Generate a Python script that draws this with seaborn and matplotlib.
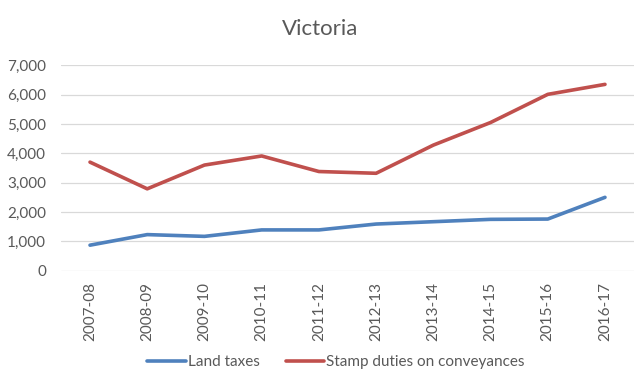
import pandas as pd
import matplotlib.pyplot as plt
import seaborn as sns

years = ['2007-08', '2008-09', '2009-10', '2010-11', '2011-12',
         '2012-13', '2013-14', '2014-15', '2015-16', '2016-17']
land_taxes = [870, 1230, 1170, 1390, 1390, 1590, 1670, 1750, 1760, 2500]
stamp_duties = [3700, 2790, 3600, 3910, 3380, 3320, 4280, 5050, 6010, 6350]
series_names = ['Land taxes', 'Stamp duties on conveyances']

df = pd.DataFrame({'Year': years * 2,
                   'Value': land_taxes + stamp_duties,
                   'Series': [series_names[0]] * len(years) + [series_names[1]] * len(years)})

sns.set_style('white')
plt.rcParams['font.family'] = ['Lato', 'DejaVu Sans']

fig = plt.figure(figsize=(6.4, 3.83), dpi=100)
ax = fig.add_axes([61.4 / 640, 1 - 270.7 / 383, (633.6 - 61.4) / 640, (270.7 - 65.3) / 383])

sns.lineplot(data=df, x='Year', y='Value', hue='Series', sort=False,
             palette=['#4F81BD', '#C0504D'], linewidth=2.6, ax=ax, legend=True)

ax.set_xlim(-0.5, len(years) - 0.5)
ax.set_ylim(0, 7000)
ax.set_yticks(range(0, 7001, 1000))
ax.set_yticklabels([f'{v:,}' for v in range(0, 7001, 1000)])
ax.grid(axis='y', color='#D9D9D9', linewidth=0.9)
ax.set_axisbelow(True)
for s in ax.spines.values():
    s.set_visible(False)
ax.tick_params(axis='both', length=0, labelsize=11, labelcolor='#595959')
ax.tick_params(axis='y', pad=11)
ax.tick_params(axis='x', pad=8)
plt.setp(ax.get_xticklabels(), rotation=90)
ax.set_xlabel('')
ax.set_ylabel('')

fig.text(0.5, 1 - 29 / 383, 'Victoria', ha='center', va='center', fontsize=16, color='#595959')

# legend centred around x=336px, y=362px
ax.legend(loc='center', bbox_to_anchor=((336 - 61.4) / (633.6 - 61.4), (270.7 - 362) / (270.7 - 65.3)),
          ncol=2, frameon=False, fontsize=11, handlelength=2.5, handletextpad=0.15,
          columnspacing=1.7, labelcolor='#595959')

fig.savefig('out.png', dpi=100)
